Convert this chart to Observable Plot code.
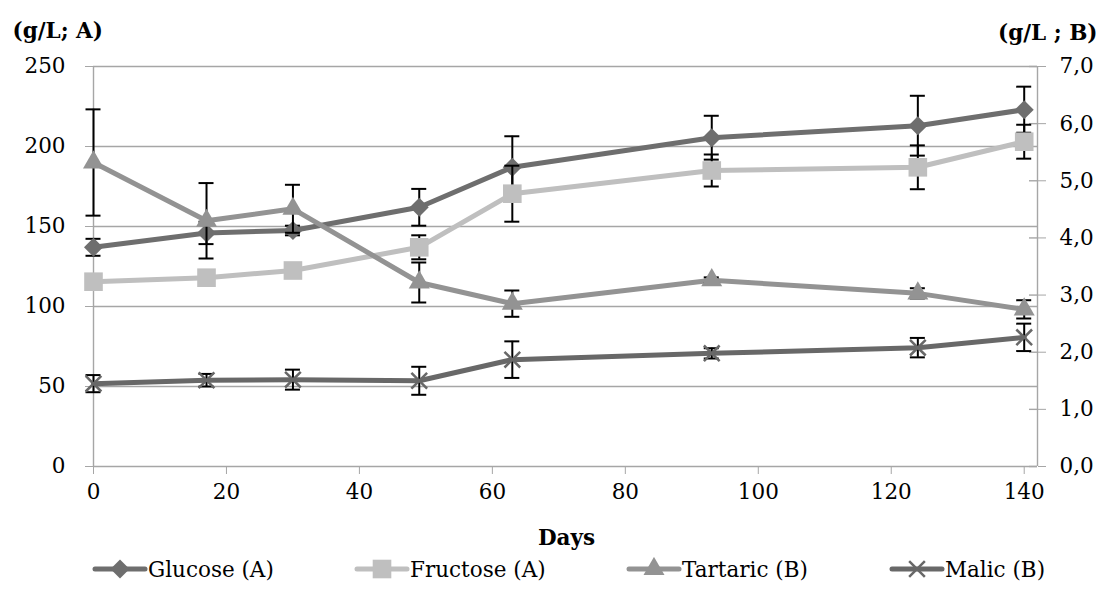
<!DOCTYPE html>
<html><head><meta charset="utf-8">
<script src="https://cdn.jsdelivr.net/npm/d3@7"></script>
<script src="https://cdn.jsdelivr.net/npm/@observablehq/plot@0.6"></script>
<style>
body{margin:0;background:#fff;font-family:"DejaVu Serif",serif;}
#wrap{position:relative;width:1103px;height:610px;background:#fff;}
#legend{position:absolute;left:0;top:551px;width:1103px;height:40px;}
.item{position:absolute;top:0;height:36px;display:flex;align-items:center;font-size:21.5px;color:#000;white-space:nowrap;}
.item svg{margin-right:0px;}
</style></head><body><div id="wrap"><div id="chart"></div><div id="legend"></div></div>
<script>
// ---- data ----
const days = [0, 17, 30, 49, 63, 93, 124, 140];
const glucose     = [137, 146, 147.5, 162, 187, 205.5, 213, 223];
const glucoseErr  = [5.3, 7, 3, 11.5, 19.4, 13.7, 18.7, 14.4];
const fructose    = [115.5, 118, 122.5, 137, 170.5, 185, 187, 203];
const fructoseErr = [3, 3, 3, 7.5, 17.5, 10, 13.7, 10.6];
const tartaric    = [5.32, 4.30, 4.51, 3.22, 2.85, 3.26, 3.03, 2.75];
const tartaricErr = [0.93, 0.66, 0.42, 0.35, 0.23, 0.05, 0.09, 0.16];
const malic       = [1.45, 1.51, 1.52, 1.50, 1.87, 1.98, 2.08, 2.26];
const malicErr    = [0.15, 0.11, 0.175, 0.245, 0.32, 0.09, 0.17, 0.24];
const seriesNames = ["Glucose (A)", "Fructose (A)", "Tartaric (B)", "Malic (B)"];
const xTicks = [0, 20, 40, 60, 80, 100, 120, 140];
const leftTicks = [0, 50, 100, 150, 200, 250];
const rightTicks = [0, 1, 2, 3, 4, 5, 6, 7];

// ---- styles ----
const K = 250 / 7; // B axis (0..7) mapped onto A axis (0..250)
const seriesDefs = [
  {name: seriesNames[0], v: glucose,  e: glucoseErr,  f: 1, color: "#6e6e6e", symbol: "square", rotate: 45, r: 7.6},
  {name: seriesNames[1], v: fructose, e: fructoseErr, f: 1, color: "#bfbfbf", symbol: "square", rotate: 0, r: 10.5},
  {name: seriesNames[2], v: tartaric, e: tartaricErr, f: K, color: "#939393", symbol: "triangle", rotate: 0, r: 7.8},
  {name: seriesNames[3], v: malic,    e: malicErr,    f: K, color: "#686868", symbol: "times", rotate: 0, r: 7.2}
];
const grid = "#a6a6a6";
const FS = 21.5;

const marks = [
  Plot.ruleY(leftTicks.slice(1), {stroke: grid, strokeWidth: 1.4}),
  Plot.ruleX([0], {stroke: grid, strokeWidth: 1.4}),
  Plot.ruleX([142], {stroke: grid, strokeWidth: 1.4}),
  Plot.ruleY([0], {stroke: grid, strokeWidth: 1.4}),
  Plot.axisY({anchor: "left", ticks: leftTicks, tickSize: 8, tickPadding: 20, stroke: grid, fill: "black", label: null, fontSize: FS, tickFormat: d => String(d)}),
  Plot.axisY({anchor: "right", ticks: rightTicks.map(k => k * K), tickSize: 8, tickPadding: 14, stroke: grid, fill: "black", label: null, fontSize: FS,
    tickFormat: v => (v / K).toFixed(1).replace(".", ",")}),
  Plot.ruleY(rightTicks.map(k => k * K), {x1: 142, x2: 142, insetLeft: -8, stroke: grid, strokeWidth: 1.4}),
  Plot.axisX({ticks: xTicks, tickSize: 8, tickPadding: 9, stroke: grid, fill: "black", label: null, fontSize: FS, tickFormat: d => String(d)}),
  Plot.text(["(g/L; A)"], {frameAnchor: "top-left", dx: -81, dy: -44, textAnchor: "start", fontWeight: "bold", fontSize: FS}),
  Plot.text(["(g/L ; B)"], {frameAnchor: "top-right", dx: 60, dy: -42, textAnchor: "end", fontWeight: "bold", fontSize: FS}),
  Plot.text(["Days"], {frameAnchor: "bottom", dx: 1, dy: 78, fontWeight: "bold", fontSize: FS})
];

for (const s of seriesDefs) {
  const rows = days.map((d, i) => ({day: d, y: s.v[i] * s.f, lo: (s.v[i] - s.e[i]) * s.f, hi: (s.v[i] + s.e[i]) * s.f}));
  marks.push(Plot.line(rows, {x: "day", y: "y", stroke: s.color, strokeWidth: 5, strokeLinejoin: "round"}));
  marks.push(Plot.ruleX(rows, {x: "day", y1: "lo", y2: "hi", stroke: "black", strokeWidth: 2}));
  marks.push(Plot.ruleY(rows, {y: "hi", x1: "day", x2: "day", insetLeft: -7.5, insetRight: -7.5, stroke: "black", strokeWidth: 2}));
  marks.push(Plot.ruleY(rows, {y: "lo", x1: "day", x2: "day", insetLeft: -7.5, insetRight: -7.5, stroke: "black", strokeWidth: 2}));
  if (s.symbol === "times") {
    marks.push(Plot.dot(rows, {x: "day", y: "y", symbol: "times", r: s.r, stroke: s.color, strokeWidth: 2.5, fill: "none"}));
  } else {
    marks.push(Plot.dot(rows, {x: "day", y: "y", symbol: s.symbol, r: s.r, fill: s.color, stroke: "none", rotate: s.rotate}));
  }
}

const chart = Plot.plot({
  width: 1103,
  height: 560,
  marginTop: 66,
  marginBottom: 94,
  marginLeft: 93,
  marginRight: 66,
  x: {domain: [0, 142], axis: null},
  y: {domain: [0, 250], axis: null},
  style: {fontFamily: "DejaVu Serif, serif", fontSize: FS + "px", color: "black", background: "transparent"},
  marks
});
document.getElementById("chart").appendChild(chart);

// ---- legend ----
const legendLeft = [92, 354, 626, 889];
const legend = document.getElementById("legend");
seriesDefs.forEach((s, i) => {
  const div = document.createElement("div");
  div.className = "item";
  div.style.left = legendLeft[i] + "px";
  const svg = d3.create("svg").attr("width", 56).attr("height", 24);
  svg.append("line").attr("x1", 3).attr("x2", 53).attr("y1", 12).attr("y2", 12)
    .attr("stroke", s.color).attr("stroke-width", 5).attr("stroke-linecap", "round");
  const sym = {square: d3.symbolSquare, triangle: d3.symbolTriangle, times: d3.symbolTimes}[s.symbol];
  const p = svg.append("path").attr("d", d3.symbol(sym, Math.PI * s.r * s.r)())
    .attr("transform", `translate(28,12) rotate(${s.rotate})`);
  if (s.symbol === "times") p.attr("fill", "none").attr("stroke", s.color).attr("stroke-width", 2.5);
  else p.attr("fill", s.color);
  div.appendChild(svg.node());
  const t = document.createElement("span");
  t.textContent = s.name;
  div.appendChild(t);
  legend.appendChild(div);
});
</script></body></html>
